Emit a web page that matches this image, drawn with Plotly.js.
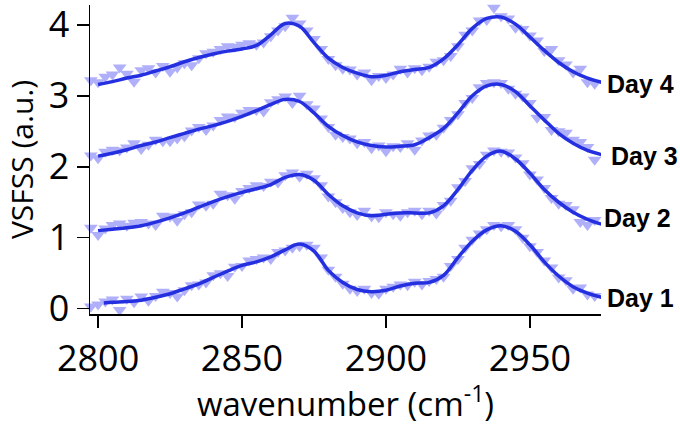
<!DOCTYPE html>
<html>
<head>
<meta charset="utf-8">
<script src="https://cdn.plot.ly/plotly-3.0.1.min.js"></script>
<style>html,body{margin:0;padding:0;background:#fff;}#chart{width:680px;height:426px;}</style>
</head>
<body>
<div id="chart"></div>
<script>
// measured data points (wavenumber, cm-1)
const dataX = [2797.5,2800,2802.5,2805,2807.5,2810,2812.5,2815,2817.5,2820,2822.5,2825,2827.5,2830,2832.5,2835,2837.5,2840,2842.5,2845,2847.5,2850,2852.5,2855,2857.5,2860,2862.5,2865,2867.5,2870,2872.5,2875,2877.5,2880,2882.5,2885,2887.5,2890,2892.5,2895,2897.5,2900,2902.5,2905,2907.5,2910,2912.5,2915,2917.5,2920,2922.5,2925,2927.5,2930,2932.5,2935,2937.5,2940,2942.5,2945,2947.5,2950,2952.5,2955,2957.5,2960,2962.5,2965,2967.5,2970,2972.5,2975];
const day1Data = [0.03,0.06,0.10,0.13,-0.02,0.14,0.09,0.17,0.11,0.18,0.24,0.22,0.17,0.26,0.33,0.34,0.37,0.47,0.50,0.46,0.59,0.60,0.68,0.70,0.72,0.70,0.80,0.82,0.86,0.88,0.90,0.86,0.72,0.55,0.45,0.35,0.28,0.25,0.28,0.22,0.21,0.28,0.31,0.34,0.33,0.38,0.34,0.39,0.42,0.45,0.60,0.70,0.86,0.97,1.06,1.12,1.18,1.16,1.18,1.12,1.00,0.88,0.80,0.68,0.58,0.44,0.40,0.28,0.30,0.20,0.18,0.15];
const day2Data = [1.14,1.04,1.13,1.18,1.20,1.17,1.21,1.22,1.20,1.18,1.31,1.30,1.24,1.33,1.36,1.47,1.45,1.48,1.62,1.60,1.55,1.66,1.70,1.74,1.73,1.79,1.78,1.88,1.92,1.86,1.90,1.84,1.74,1.58,1.50,1.42,1.36,1.32,1.38,1.30,1.29,1.36,1.33,1.31,1.36,1.38,1.33,1.38,1.34,1.46,1.52,1.71,1.80,1.98,2.04,2.17,2.23,2.21,2.20,2.13,2.05,1.89,1.82,1.70,1.56,1.48,1.46,1.40,1.22,1.18,1.25,1.14];
const day3Data = [2.16,2.12,2.21,2.24,2.23,2.27,2.33,2.25,2.31,2.38,2.36,2.36,2.40,2.43,2.51,2.56,2.52,2.58,2.66,2.71,2.70,2.76,2.80,2.80,2.78,2.91,2.95,2.99,2.90,3.00,2.88,2.82,2.68,2.56,2.45,2.42,2.40,2.33,2.35,2.26,2.30,2.22,2.29,2.28,2.33,2.24,2.37,2.44,2.45,2.55,2.66,2.74,2.90,2.97,3.12,3.18,3.19,3.18,3.10,3.03,2.99,2.90,2.69,2.70,2.52,2.50,2.48,2.38,2.35,2.28,2.10,2.12];
const day4Data = [3.22,3.19,3.27,3.30,3.40,3.31,3.20,3.36,3.39,3.33,3.42,3.34,3.40,3.46,3.43,3.53,3.60,3.62,3.66,3.70,3.69,3.72,3.74,3.72,3.75,3.84,3.92,3.98,4.10,4.02,3.92,3.80,3.66,3.52,3.43,3.38,3.37,3.30,3.33,3.22,3.28,3.25,3.30,3.38,3.33,3.39,3.36,3.41,3.48,3.50,3.56,3.70,3.86,3.92,4.06,4.07,4.24,4.12,4.09,3.96,3.94,3.85,3.78,3.63,3.66,3.50,3.44,3.33,3.38,3.19,3.17,3.23];

// fitted curves
const fitX = [2800,2805,2810,2815,2820,2825,2830,2835,2840,2845,2850,2855,2860,2865,2870,2875,2880,2885,2890,2895,2900,2905,2910,2915,2920,2925,2930,2935,2940,2945,2950,2955,2960,2965,2970,2975];
const fitX1 = [2802,2805,2810,2815,2820,2825,2830,2835,2840,2845,2850,2855,2860,2865,2870,2875,2880,2885,2890,2895,2900,2905,2910,2915,2920,2925,2930,2935,2940,2945,2950,2955,2960,2965,2970,2975];
const day1Fit = [0.08,0.09,0.10,0.12,0.16,0.21,0.28,0.35,0.44,0.53,0.61,0.66,0.73,0.83,0.91,0.81,0.54,0.37,0.27,0.24,0.26,0.32,0.36,0.37,0.47,0.72,0.95,1.11,1.17,1.09,0.90,0.66,0.46,0.31,0.22,0.16];
const day2Fit = [1.10,1.12,1.14,1.17,1.22,1.28,1.35,1.43,1.51,1.58,1.64,1.69,1.75,1.85,1.89,1.81,1.61,1.45,1.35,1.31,1.33,1.35,1.35,1.35,1.45,1.68,1.95,2.15,2.22,2.11,1.91,1.68,1.50,1.36,1.26,1.19];
const day3Fit = [2.15,2.19,2.24,2.30,2.35,2.41,2.47,2.53,2.58,2.64,2.71,2.79,2.88,2.95,2.92,2.76,2.57,2.44,2.35,2.30,2.28,2.29,2.31,2.41,2.54,2.76,3.00,3.14,3.16,3.06,2.86,2.66,2.47,2.33,2.23,2.17];
const day4Fit = [3.16,3.20,3.25,3.29,3.35,3.41,3.48,3.54,3.59,3.63,3.66,3.71,3.86,4.02,3.98,3.75,3.53,3.40,3.32,3.27,3.29,3.34,3.37,3.40,3.52,3.72,3.95,4.09,4.11,4.01,3.83,3.64,3.47,3.34,3.25,3.19];

const dayLabels = ['Day 1','Day 2','Day 3','Day 4'];
const labelX = [2974,2974,2974,2974];
const labelY = [0.15,1.28,2.15,3.16];
const labelShift = [6,3,10,6];

const xTicks = [2800,2850,2900,2950];
const yTicks = [0,1,2,3,4];
const xTitle = 'wavenumber (cm<sup>-1</sup>)';
const yTitle = 'VSFSS (a.u.)';

const markerColor = 'rgb(176,176,250)';
const lineColor = 'rgb(36,48,224)';
const font = '"Open Sans", sans-serif';

const dataSets = [day1Data, day2Data, day3Data, day4Data];
const fits = [[fitX1, day1Fit],[fitX, day2Fit],[fitX, day3Fit],[fitX, day4Fit]];

const traces = [];
dataSets.forEach((d, i) => {
  traces.push({x: dataX, y: d, type: 'scatter', mode: 'markers', cliponaxis: false,
    marker: {symbol: 'triangle-down', size: 12, color: markerColor}, hoverinfo: 'skip', name: dayLabels[i] + ' data'});
});
fits.forEach((f, i) => {
  traces.push({x: f[0], y: f[1], type: 'scatter', mode: 'lines',
    line: {color: lineColor, width: 3.5, shape: 'spline', smoothing: 1}, name: dayLabels[i] + ' fit'});
});

const annotations = dayLabels.map((t, i) => ({
  x: labelX[i], y: labelY[i], xref: 'x', yref: 'y', xshift: labelShift[i], text: '<b>' + t + '</b>', showarrow: false,
  xanchor: 'left', yanchor: 'middle', font: {family: '"Liberation Sans", Arial, sans-serif', size: 25, color: '#000'}
}));
annotations.push({
  xref: 'paper', yref: 'paper', x: -0.134, y: 0.5, text: yTitle, textangle: -90, showarrow: false,
  xanchor: 'center', yanchor: 'middle', font: {family: font, size: 30, color: '#000'}
});

const layout = {
  width: 680, height: 426,
  margin: {l: 90, r: 79, t: 5, b: 112},
  paper_bgcolor: '#fff', plot_bgcolor: '#fff',
  showlegend: false,
  font: {family: font, color: '#000'},
  xaxis: {
    range: [2797.2, 2974.7], tickvals: xTicks, ticktext: xTicks.map(String),
    showline: true, linecolor: '#000', linewidth: 1.5, mirror: false,
    ticks: 'outside', ticklen: 12, tickwidth: 1.5, tickcolor: '#000',
    showgrid: false, zeroline: false, ticklabeloverflow: 'allow',
    tickfont: {family: font, size: 36, color: '#000'},
    title: {text: xTitle, font: {family: font, size: 33, color: '#000'}, standoff: 19}
  },
  yaxis: {
    range: [-0.075, 4.28], tickvals: yTicks, ticktext: yTicks.map(String),
    showline: true, linecolor: '#000', linewidth: 1.5,
    ticks: 'outside', ticklen: 12, tickwidth: 1.5, tickcolor: '#000',
    showgrid: false, zeroline: false, ticklabeloverflow: 'allow',
    tickfont: {family: font, size: 36, color: '#000'}
  },
  annotations: annotations
};

Plotly.newPlot('chart', traces, layout, {displayModeBar: false, staticPlot: true});
</script>
</body>
</html>
